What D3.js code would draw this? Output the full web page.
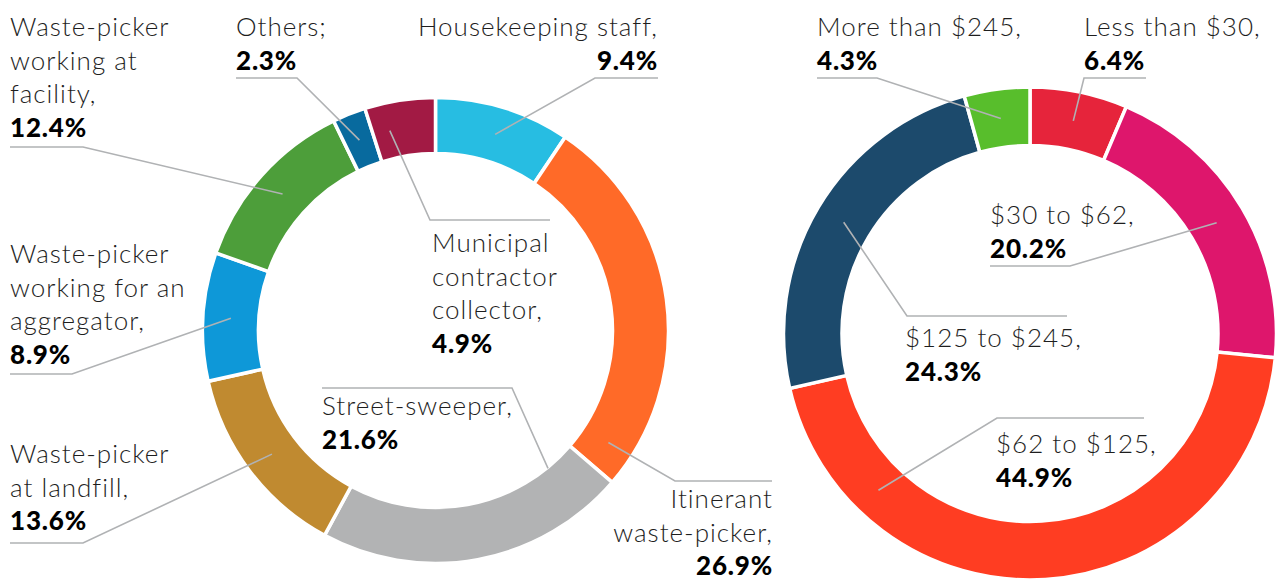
<!DOCTYPE html>
<html>
<head>
<meta charset="utf-8">
<script src="https://cdn.jsdelivr.net/npm/d3@7"></script>
<style>
  html, body { margin: 0; padding: 0; background: #ffffff; }
  svg { display: block; }
  .name { font-family: Lato, "Open Sans", sans-serif; font-weight: 300; font-size: 26px; letter-spacing: 1px; fill: #1e1e1e; }
  .pct { font-family: Lato, "Open Sans", sans-serif; font-weight: 900; font-size: 26px; letter-spacing: 0.8px; fill: #000; }
</style>
</head>
<body>
<svg id="chart" width="1279" height="583"></svg>
<script>
// ---------- DATA ----------
const jobCategories = [
  "Housekeeping staff,",
  "Itinerant|waste-picker,",
  "Street-sweeper,",
  "Waste-picker|at landfill,",
  "Waste-picker|working for an|aggregator,",
  "Waste-picker|working at|facility,",
  "Others;",
  "Municipal|contractor|collector,"
];
const jobShares = [9.4, 26.9, 21.6, 13.6, 8.9, 12.4, 2.3, 4.9];
const jobColors = ["#27bde2", "#ff6a28", "#b2b3b4", "#c08a30", "#0e98d8", "#4d9e3a", "#086a9e", "#a21a44"];

const incomeCategories = [
  "Less than $30,",
  "$30 to $62,",
  "$62 to $125,",
  "$125 to $245,",
  "More than $245,"
];
const incomeShares = [6.4, 20.2, 44.9, 24.3, 4.3];
const incomeColors = ["#e6243b", "#de166c", "#ff3d22", "#1c4a6c", "#58be2c"];

// ---------- LAYOUT (label placement) ----------
const jobLabelLayout = [
  { anchor: "end",   x: 658, y: 36,  t: 0.5,  rr: 205, elbow: [595, 78],  endX: 658 },
  { anchor: "end",   x: 773, y: 508, t: 0.92, rr: 206, elbow: [675, 481], endX: 772 },
  { anchor: "start", x: 322, y: 415, t: 0.13, rr: 178, elbow: [512, 388], endX: 322 },
  { anchor: "start", x: 10,  y: 463, t: 0.5,  rr: 205, elbow: [83, 543],  endX: 10 },
  { anchor: "start", x: 10,  y: 263, t: 0.5,  rr: 205, elbow: [72, 374],  endX: 10 },
  { anchor: "start", x: 10,  y: 36,  t: 0.5,  rr: 205, elbow: [83, 147],  endX: 10 },
  { anchor: "start", x: 236, y: 36,  t: 0.5,  rr: 205, elbow: [297, 78],  endX: 236 },
  { anchor: "start", x: 432, y: 252, t: 0.27, rr: 205, elbow: [430, 220], endX: 550 }
];
const incomeLabelLayout = [
  { anchor: "start", x: 1084, y: 36,  t: 0.5,   rr: 217, elbow: [1084, 78],  endX: 1146 },
  { anchor: "start", x: 990,  y: 224, t: 0.5,   rr: 217, elbow: [1070, 266], endX: 990 },
  { anchor: "start", x: 996,  y: 453, t: 0.795, rr: 218, elbow: [997, 418],  endX: 1144 },
  { anchor: "start", x: 905,  y: 347, t: 0.5,   rr: 217, elbow: [907, 316],  endX: 1067 },
  { anchor: "start", x: 817,  y: 36,  t: 0.5,   rr: 217, elbow: [877, 78],   endX: 817 }
];

const svg = d3.select("#chart");
const lineH = 33.6;
const fmt = v => d3.format(".1f")(v) + "%";

function drawDonut(cfg) {
  const pie = d3.pie().sort(null).value(d => d).startAngle(0).endAngle(2 * Math.PI);
  const arcs = pie(cfg.values);
  const arc = d3.arc().innerRadius(cfg.inner).outerRadius(cfg.outer);
  const g = svg.append("g").attr("transform", `translate(${cfg.cx},${cfg.cy})`);

  g.selectAll("path.slice")
    .data(arcs)
    .join("path")
    .attr("class", "slice")
    .attr("d", arc)
    .attr("fill", (d, i) => cfg.colors[i])
    .attr("stroke", "#ffffff")
    .attr("stroke-width", 3.5)
    .attr("stroke-linejoin", "miter");

  // leader lines
  const lines = svg.append("g");
  arcs.forEach((d, i) => {
    const L = cfg.layout[i];
    const a = d.startAngle + (d.endAngle - d.startAngle) * L.t;
    const px = cfg.cx + L.rr * Math.sin(a);
    const py = cfg.cy - L.rr * Math.cos(a);
    const pts = [[px, py], L.elbow, [L.endX, L.elbow[1]]];
    lines.append("path")
      .attr("d", d3.line()(pts))
      .attr("fill", "none")
      .attr("stroke", "#b0b2b4")
      .attr("stroke-width", 1.6);
  });

  // labels
  const labels = svg.append("g");
  arcs.forEach((d, i) => {
    const L = cfg.layout[i];
    const nameLines = cfg.names[i].split("|");
    const t = labels.append("text").attr("text-anchor", L.anchor);
    nameLines.forEach((ln, k) => {
      t.append("tspan").attr("class", "name").attr("x", L.x).attr("y", L.y + k * lineH).text(ln);
    });
    t.append("tspan").attr("class", "pct").attr("x", L.x).attr("y", L.y + nameLines.length * lineH).text(fmt(cfg.values[i]));
  });
}

drawDonut({ cx: 435.5, cy: 330.5, outer: 233, inner: 177, values: jobShares, colors: jobColors, names: jobCategories, layout: jobLabelLayout });
drawDonut({ cx: 1030, cy: 333.5, outer: 246.5, inner: 188, values: incomeShares, colors: incomeColors, names: incomeCategories, layout: incomeLabelLayout });
</script>
</body>
</html>
